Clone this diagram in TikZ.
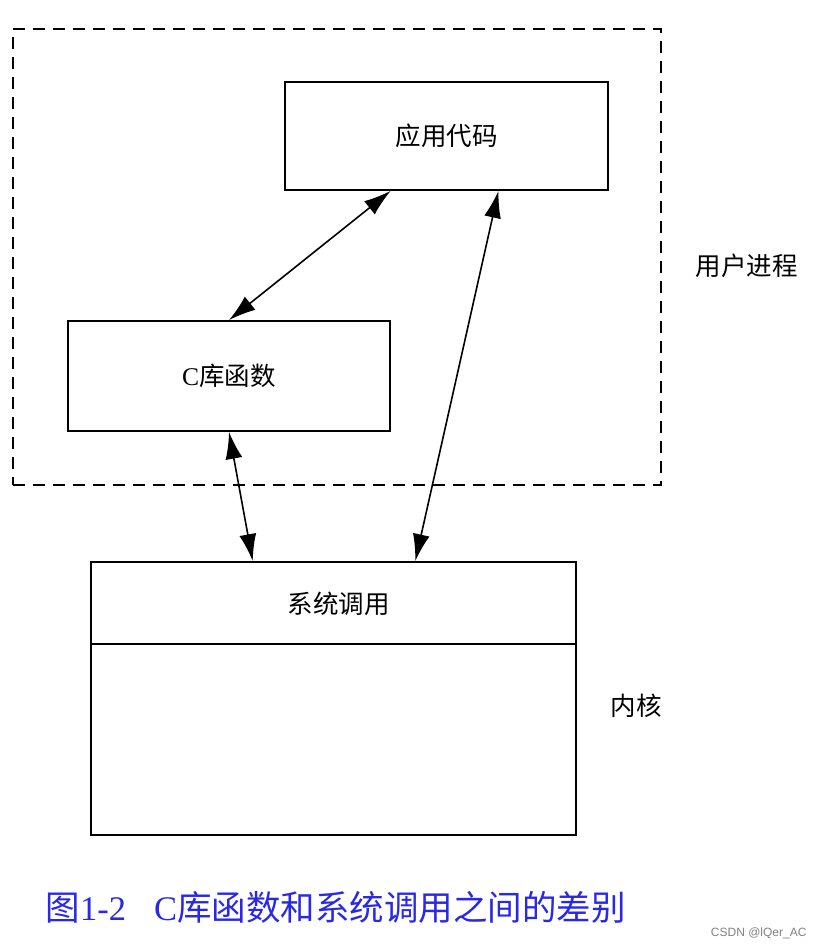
\documentclass[tikz,border=0pt]{standalone}
\usepackage{fontspec}
\setmainfont{Liberation Serif}
\newfontfamily\cjk{Noto Sans CJK SC}
\newfontfamily\wm{Liberation Sans}
\usetikzlibrary{arrows.meta,calc}
\definecolor{capblue}{RGB}{40,40,230}
\begin{document}
\begin{tikzpicture}[x=1pt,y=-1pt,
  box/.style={draw,line width=1.8pt,rectangle,inner sep=0pt},
  lbl/.style={font=\fontsize{25.5}{30}\selectfont},
  conn/.style={line width=1.6pt,{Latex[length=27pt,width=17pt]}-{Latex[length=27pt,width=17pt]}}]
\useasboundingbox (0,0) rectangle (823,950);
\node[box,dashed,dash pattern=on 12pt off 8pt,minimum width=648pt,minimum height=456pt] (user) at (337,257) {};
\node[box,minimum width=323pt,minimum height=108pt,lbl] (app) at (446.5,136) {\cjk 应用代码};
\node[box,minimum width=322pt,minimum height=110pt,lbl] (clib) at (229,376) {C\cjk 库函数};
\node[box,minimum width=485pt,minimum height=273pt] (sys) at (333.5,698.5) {};
\coordinate (divl) at ($(sys.north west)+(0,83)$);
\coordinate (divr) at ($(sys.north east)+(0,83)$);
\draw[line width=1.8pt] (divl) -- (divr);
\node[lbl] (syscall) at ($(sys.north)+(5,43)$) {\cjk 系统调用};
\node[lbl,anchor=west] (ulabel) at (692,266) {\cjk 用户进程};
\node[lbl,anchor=west] (klabel) at (607,706) {\cjk 内核};
\draw[conn] ($(app.south west)!0.328!(app.south east)$) -- (clib.north);
\draw[conn] ($(app.south west)!0.66!(app.south east)$) -- ($(sys.north west)!0.668!(sys.north east)$);
\draw[conn] (clib.south) -- ($(sys.north west)!0.334!(sys.north east)$);
\node[anchor=west,text=capblue,font=\fontsize{34.5}{40}\selectfont] (cap) at (42,907) {{\cjk 图}1-2\hspace{28pt}C{\cjk 库函数和系统调用之间的差别}};
\node[anchor=east,text=gray,font=\wm\fontsize{12}{14}\selectfont] (mark) at (810,933) {CSDN @lQer\_AC};
\end{tikzpicture}
\end{document}
